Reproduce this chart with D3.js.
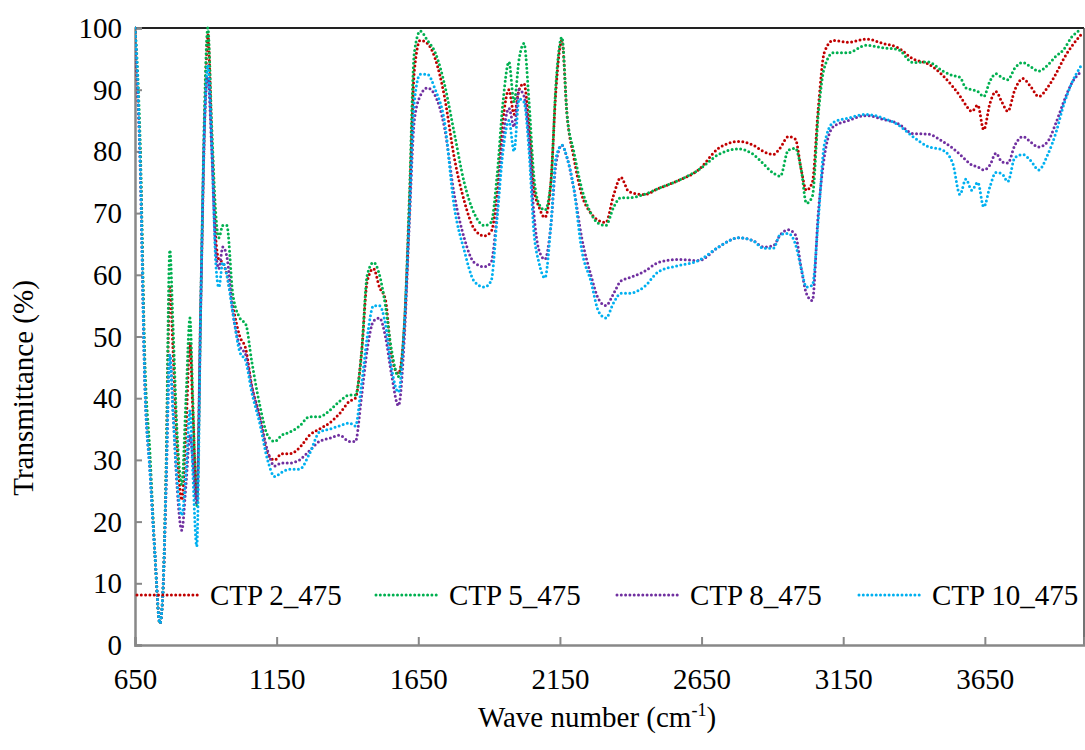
<!DOCTYPE html>
<html><head><meta charset="utf-8">
<script src="https://cdnjs.cloudflare.com/ajax/libs/d3/7.8.5/d3.min.js"></script>
<style>
html,body{margin:0;padding:0;background:#fff;}
</style></head>
<body>
<svg id="chart" width="1085" height="750"></svg>
<script>
// Wave numbers (cm-1)
const waveNumbers = [650,657,668,685,703,720,738,749,759,773,784,798,815,830,844,854,868,882,896,907,921,935,946,960,974,995,1020,1041,1062,1090,1118,1143,1168,1196,1231,1266,1301,1337,1372,1407,1428,1449,1470,1492,1513,1534,1555,1580,1601,1618,1636,1657,1682,1710,1742,1777,1812,1847,1883,1907,1928,1949,1970,1988,2006,2023,2041,2058,2076,2097,2118,2136,2157,2175,2199,2227,2259,2287,2312,2340,2365,2393,2446,2498,2569,2639,2710,2780,2833,2868,2903,2928,2956,2981,3002,3020,3041,3062,3083,3115,3167,3231,3291,3344,3396,3449,3502,3537,3562,3583,3604,3625,3646,3668,3689,3710,3731,3756,3784,3812,3840,3872,3900,3928,3956,3991];

const ctp2 = [100,92,80,43,29,15,3.5,9,26,58,48,33,23.5,35,49,38,24,55,85,99,82,66,62.5,62,60,55,50,48,42,37,31,30,31,31,32,34,35,36,37.5,39.5,40,47,59,61,58,56,47,44,52,70,93,98,97.5,95,89,79,72,67.5,66.3,67,73,85,90,86,90,91,84,74,71,69.3,75,90,98,86,79,73,70,68.8,68.5,73,75.8,73.5,73,74,75.3,77,80.5,81.6,81,80,79.5,80.6,82.4,82,77,73.7,75,87,96,98,97.7,98.2,97.5,96.8,95,94.2,92.3,90.5,89,87.5,86.5,87.5,83.5,87.8,89.7,88,86.5,90,91.8,90.5,88.9,90.4,92.5,95,97,99];
const ctp5 = [100,95,82,46,31,15,3.5,9,27,64,52,35,26,40,53,40,22.5,55,88,100,84,70,66,68,68,57,53,52,46,39,34,33,34,34.5,35.5,37,37,38,39.5,40.5,40.5,47,60,62,60,55,48,43.5,52,72,96,99.5,98,96,91,83,75,70,68,68.5,76,88,94.5,88,95,97.5,88,76,71.5,70.5,75,91,98.5,86,80,74,70,68.3,68,71,72.5,72.5,73,74,75.3,77,79.5,80.4,79.5,78,76.5,76,80.2,80.5,77,71.6,72.7,86,93.5,96,96,97.2,96.8,96.5,94.4,94.5,93,92.3,92,90.3,90,89.7,88.9,91.4,92.6,92,91.6,93.5,94.4,93.7,93,94,95.4,96.5,98.5,99.8];
const ctp8 = [100,93,78,42,28,15,3.5,9,24,47,38,26,18.6,26,34,30,23,55,85,92,80,64,61,64.5,63,54,48.5,47,42,37,31.5,29,29.5,29.5,30,31.5,33,33.5,34,33,33,40,48,52.5,53,50,44,38.8,50,68,85,89,90.3,89,84,73,66,62,61.3,62,70,82,87,84,90,89,82,70,64,62.5,68,78,81,79,74,66,60,56,55,57,59,59.5,60.5,62,62.5,62.3,64.5,66,65.5,64.5,64.7,66.5,67.3,66.5,61,57,55.8,70,79,84,85,85.8,85.2,84.5,82.9,82.8,81.6,80.5,79.5,78.6,77.8,77.5,77,77.8,79.7,78.3,78.1,81,82.4,81.5,80.7,81.6,84.5,88,91,93];
const ctp10 = [100,94,79,42,28,15,3.5,9,25,47,38,27,21,28,38,28,16,55,85,94,81,62,58,62,60,54,47.5,46,41,36,30,27.3,28,28.5,28.5,31,34.5,35,35.5,36,35.5,42,50,55,55,52,45,41,52,69,88,92.5,92.5,90,85,71,64,59,58,59,69,80,85,80,88.5,88,80,67,62,59.5,68,79,81,79,74,64,59,54,53,55.5,57,57,58,60.5,61.5,62.3,64.5,66,65.5,64.3,64.3,66.5,66.7,65,61,58,58.3,68.9,81,84.7,85.4,86,85.4,84.3,82.4,80.8,80.2,78,73,75.5,73.7,75,71,74.3,76.6,76.4,75.1,79,79.5,78.5,77,79.5,82.9,87.5,91,94];

const seriesNames = ["CTP 2_475","CTP 5_475","CTP 8_475","CTP 10_475"];
const seriesValues = [ctp2, ctp5, ctp8, ctp10];
const seriesColors = ["#C00000","#00B050","#7030A0","#00B0F0"];
const xTicks = [650,1150,1650,2150,2650,3150,3650];
const yTicks = [0,10,20,30,40,50,60,70,80,90,100];

const FONT = "'Liberation Serif'";
const svg = d3.select("#chart");
const L = 135, R = 1084, T = 28, B = 645;
const x = d3.scaleLinear().domain([650, 4000]).range([L, R]);
const y = d3.scaleLinear().domain([0, 100]).range([B, T]);

// Frame (top and right)
svg.append("line").attr("x1",L).attr("x2",R).attr("y1",T).attr("y2",T).attr("stroke","#222").attr("stroke-width",2);
svg.append("line").attr("x1",R).attr("x2",R).attr("y1",T).attr("y2",B).attr("stroke","#444").attr("stroke-width",1.5);

// Axes
const yAxis = d3.axisLeft(y).tickValues(yTicks).tickSize(-7).tickPadding(15).tickFormat(d3.format("d"));
const gy = svg.append("g").attr("transform",`translate(${L},0)`).call(yAxis);
gy.attr("font-family",null);
gy.select(".domain").attr("stroke","#888").attr("stroke-width",2.5);
gy.selectAll(".tick line").attr("stroke","#888").attr("stroke-width",2);
gy.selectAll(".tick text").style("font-family",FONT).style("font-size","29px").attr("x",-13).attr("dy","0.33em").attr("fill","#000");

const xAxis = d3.axisBottom(x).tickValues(xTicks).tickSize(-8).tickPadding(22).tickFormat(d3.format("d"));
const gx = svg.append("g").attr("transform",`translate(0,${B})`).call(xAxis);
gx.attr("font-family",null);
gx.select(".domain").attr("stroke","#888").attr("stroke-width",2.5);
gx.selectAll(".tick line").attr("stroke","#888").attr("stroke-width",2);
gx.selectAll(".tick text").style("font-family",FONT).style("font-size","29px").attr("y",23).attr("dy","0.71em").attr("fill","#000");

// Series
const line = d3.line().x((d,i)=>x(waveNumbers[i])).y(d=>y(d)).curve(d3.curveMonotoneX);
svg.append("clipPath").attr("id","pc").append("rect").attr("x",L).attr("y",T-3).attr("width",R-L+2).attr("height",B-T+3);
const plot = svg.append("g").attr("clip-path","url(#pc)");
seriesValues.forEach((vals,k)=>{
  plot.append("path").datum(vals).attr("d",line).attr("fill","none")
    .attr("stroke",seriesColors[k]).attr("stroke-width",3)
    .attr("stroke-dasharray","0 4.3").attr("stroke-linecap","round");
});

// Legend
const legX = [137, 376, 617, 859];
const legY = 595;
seriesNames.forEach((n,k)=>{
  svg.append("line").attr("x1",legX[k]).attr("x2",legX[k]+64).attr("y1",legY).attr("y2",legY)
    .attr("stroke",seriesColors[k]).attr("stroke-width",3)
    .attr("stroke-dasharray","0 4.3").attr("stroke-linecap","round");
  svg.append("text").attr("x",legX[k]+73).attr("y",legY).attr("dy","0.35em")
    .style("font-family",FONT).style("font-size","29px").text(n);
});

// Axis titles
const xt = svg.append("text").attr("x",597).attr("y",727).attr("text-anchor","middle")
  .style("font-family",FONT).style("font-size","29px");
xt.append("tspan").text("Wave number (cm");
xt.append("tspan").style("font-size","18px").attr("dy",-11).text("-1");
xt.append("tspan").attr("dy",11).text(")");

svg.append("text").attr("transform","translate(33,388) rotate(-90)").attr("text-anchor","middle")
  .style("font-family",FONT).style("font-size","29px").text("Transmittance (%)");
</script>
</body></html>
